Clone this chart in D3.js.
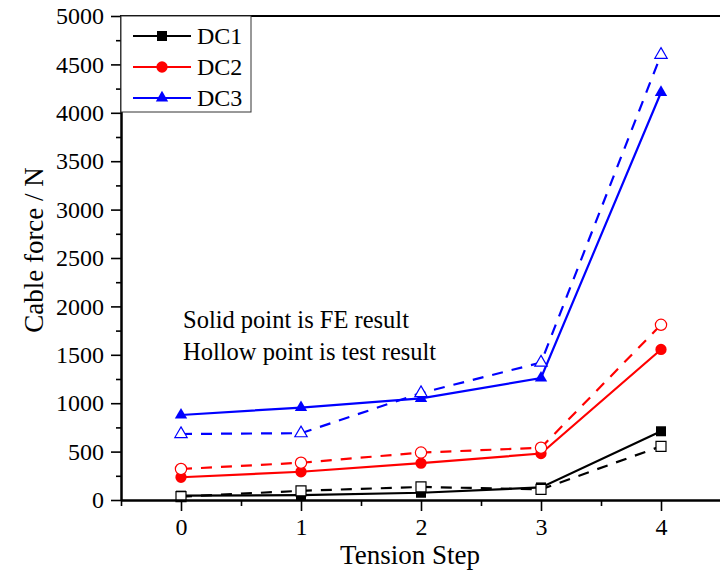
<!DOCTYPE html>
<html>
<head>
<meta charset="utf-8">
<script src="https://cdn.jsdelivr.net/npm/d3@7"></script>
<style>
  body { margin: 0; background: #fff; }
  svg { display: block; }
</style>
</head>
<body>
<div id="chart"></div>
<script>
var steps = [0, 1, 2, 3, 4];
var seriesNames = ['DC1', 'DC2', 'DC3'];
var seriesColors = ['#000000', '#ff0000', '#0000ff'];
var seriesShapes = ['square', 'circle', 'triangle'];

// solid = FE result, hollow = test result
var dc1FE   = [45, 50, 75, 130, 710];
var dc1Test = [35, 95, 135, 110, 555];
var dc2FE   = [235, 292, 380, 480, 1555];
var dc2Test = [320, 385, 490, 540, 1810];
var dc3FE   = [878, 955, 1050, 1260, 4210];
var dc3Test = [682, 690, 1105, 1420, 4600];

var yTicks = [0, 500, 1000, 1500, 2000, 2500, 3000, 3500, 4000, 4500, 5000];
var yMinor = [250, 750, 1250, 1750, 2250, 2750, 3250, 3750, 4250, 4750];
var xMinor = [-0.5, 0.5, 1.5, 2.5, 3.5];

var feData = [dc1FE, dc2FE, dc3FE];
var testData = [dc1Test, dc2Test, dc3Test];

var width = 720, height = 571;
var serif = 'Liberation Serif';

var x = d3.scaleLinear().domain([-0.5, 4.5]).range([121, 721]);
var y = d3.scaleLinear().domain([0, 5000]).range([500, 16]);

var svg = d3.select('#chart').append('svg')
    .attr('width', width)
    .attr('height', height);

function symbolFor(shape) {
  if (shape == 'square') return d3.symbol().type(d3.symbolSquare).size(100);
  if (shape == 'circle') return d3.symbol().type(d3.symbolCircle).size(100);
  return d3.symbol().type(d3.symbolTriangle).size(66);
}

// lines
var line = d3.line()
    .x(function(d, i) { return x(steps[i]); })
    .y(function(d) { return y(d); });

seriesNames.forEach(function(name, k) {
  svg.append('path')
      .attr('d', line(feData[k]))
      .attr('fill', 'none')
      .attr('stroke', seriesColors[k])
      .attr('stroke-width', 2.2);
  svg.append('path')
      .attr('d', line(testData[k]))
      .attr('fill', 'none')
      .attr('stroke', seriesColors[k])
      .attr('stroke-width', 2.2)
      .attr('stroke-dasharray', '11,9');
});

// markers
seriesNames.forEach(function(name, k) {
  var sym = symbolFor(seriesShapes[k]);
  svg.append('g').selectAll('path')
      .data(feData[k])
      .enter().append('path')
      .attr('d', sym)
      .attr('transform', function(d, i) { return 'translate(' + x(steps[i]) + ',' + y(d) + ')'; })
      .attr('fill', seriesColors[k]);
  svg.append('g').selectAll('path')
      .data(testData[k])
      .enter().append('path')
      .attr('d', sym)
      .attr('transform', function(d, i) { return 'translate(' + x(steps[i]) + ',' + y(d) + ')'; })
      .attr('fill', '#fff')
      .attr('stroke', seriesColors[k])
      .attr('stroke-width', 1.2);
});

// axes
svg.append('g')
    .attr('transform', 'translate(121,0)')
    .call(d3.axisLeft(y).tickValues(yTicks).tickSize(10).tickSizeOuter(0).tickPadding(7).tickFormat(d3.format('d')));
svg.append('g')
    .attr('transform', 'translate(121,0)')
    .call(d3.axisLeft(y).tickValues(yMinor).tickSize(5).tickSizeOuter(0).tickFormat(''));

svg.append('g')
    .attr('transform', 'translate(0,500)')
    .call(d3.axisBottom(x).tickValues(steps).tickSize(11).tickSizeOuter(0).tickPadding(7).tickFormat(d3.format('d')));
svg.append('g')
    .attr('transform', 'translate(0,500)')
    .call(d3.axisBottom(x).tickValues(xMinor).tickSize(6).tickSizeOuter(0).tickFormat(''));

svg.selectAll('.domain').attr('stroke-width', 2);
svg.selectAll('.tick line').attr('stroke-width', 1.6);
svg.selectAll('.tick text')
    .style('font-size', '24px');

// top frame line
svg.append('line')
    .attr('x1', 120).attr('x2', 721)
    .attr('y1', y(5000)).attr('y2', y(5000))
    .attr('stroke', '#000')
    .attr('stroke-width', 2);

// axis titles
svg.append('text')
    .attr('x', 410)
    .attr('y', 564)
    .attr('text-anchor', 'middle')
    .style('font-size', '27px')
    .text('Tension Step');

svg.append('text')
    .attr('text-anchor', 'middle')
    .attr('transform', 'translate(43,250)rotate(-90)')
    .style('font-size', '27px')
    .text('Cable force / N');

// notes
svg.append('text')
    .attr('x', 183).attr('y', 328)
    .style('font-size', '24.5px')
    .text('Solid point is FE result');
svg.append('text')
    .attr('x', 183).attr('y', 360)
    .style('font-size', '24.5px')
    .text('Hollow point is test result');

// legend
var legend = svg.append('g');
legend.append('rect')
    .attr('x', 121).attr('y', 16)
    .attr('width', 130).attr('height', 96)
    .attr('fill', '#fff')
    .attr('stroke', '#333')
    .attr('stroke-width', 1);

seriesNames.forEach(function(name, k) {
  var ly = 36 + k * 31;
  legend.append('line')
      .attr('x1', 133).attr('x2', 191)
      .attr('y1', ly).attr('y2', ly)
      .attr('stroke', seriesColors[k])
      .attr('stroke-width', 2.2);
  legend.append('path')
      .attr('d', symbolFor(seriesShapes[k]))
      .attr('transform', 'translate(162,' + ly + ')')
      .attr('fill', seriesColors[k]);
  legend.append('text')
      .attr('x', 197).attr('y', ly + 8)
      .style('font-size', '24px')
      .text(name);
});

svg.selectAll('text')
    .style('font-family', serif)
    .attr('fill', '#000');
</script>
</body>
</html>
